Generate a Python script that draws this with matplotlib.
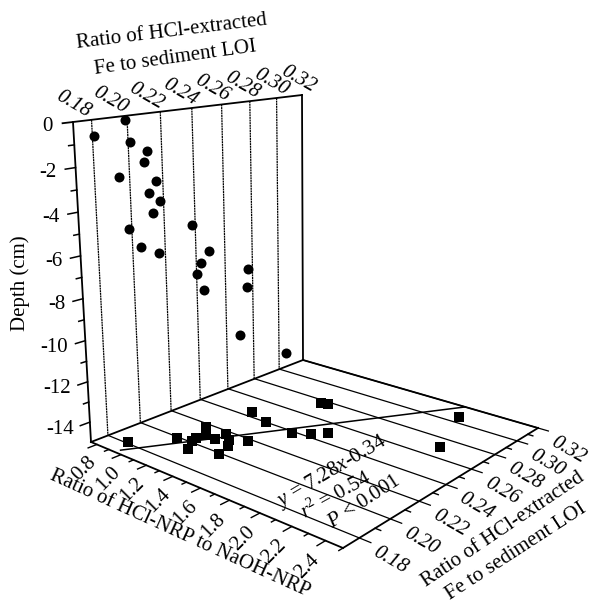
import numpy as np
import matplotlib
matplotlib.use('Agg')
import matplotlib.pyplot as plt

plt.rcParams['font.family'] = ['Liberation Serif', 'DejaVu Serif']
plt.rcParams['mathtext.fontset'] = 'custom'
plt.rcParams['mathtext.rm'] = 'Liberation Serif'
plt.rcParams['mathtext.it'] = 'Liberation Serif:italic'

# wall: Fe/LOI ratio against depth
wall_fe = [0.181, 0.199, 0.201, 0.211, 0.209, 0.194, 0.216, 0.211, 0.218, 0.213, 0.198,
           0.238, 0.205, 0.216, 0.249, 0.243, 0.240, 0.277, 0.276, 0.245, 0.270, 0.306]
wall_depth = [-0.71, -0.20, -1.23, -1.74, -2.23, -2.73, -3.24, -3.74, -4.24, -4.74, -5.24,
              -5.74, -6.25, -6.76, -7.25, -7.76, -8.27, -8.76, -9.74, -9.24, -12.24, -14.19]

# floor: HCl-NRP/NaOH-NRP ratio against Fe/LOI ratio
floor_nrp = [0.90, 1.06, 1.14, 1.16, 1.21, 1.07, 1.16, 1.23, 1.23, 1.30, 1.35,
             1.39, 1.39, 1.12, 1.28, 1.50, 1.59, 1.65, 1.33, 1.37, 2.07, 2.22]
floor_fe = [0.181, 0.199, 0.205, 0.201, 0.194, 0.217, 0.210, 0.210, 0.217, 0.213, 0.208,
            0.199, 0.218, 0.245, 0.240, 0.238, 0.243, 0.249, 0.277, 0.278, 0.307, 0.271]

fit_nrp = [0.954, 2.018]
fit_fe = [0.173, 0.320]

fe_ticks = [0.18, 0.20, 0.22, 0.24, 0.26, 0.28, 0.30, 0.32]
fe_minor = [0.19, 0.21, 0.23, 0.25, 0.27, 0.29, 0.31]
nrp_ticks = [0.8, 1.0, 1.2, 1.4, 1.6, 1.8, 2.0, 2.2, 2.4]
nrp_minor = [0.9, 1.1, 1.3, 1.5, 1.7, 1.9, 2.1, 2.3, 2.5]
depth_ticks = [0, -2, -4, -6, -8, -10, -12, -14]
depth_minor = [-1, -3, -5, -7, -9, -11, -13]

FE_MIN, FE_MAX = 0.17, 0.32
NRP_MIN, NRP_MAX = 0.75, 2.5
DEPTH_MIN, DEPTH_MAX = -15, 0


def fit_plane(src, dst):
    # homography from data plane to pixels
    rows = []
    for (a, b), (x, y) in zip(src, dst):
        rows.append([a, b, 1, 0, 0, 0, -a * x, -b * x, -x])
        rows.append([0, 0, 0, a, b, 1, -a * y, -b * y, -y])
    return np.linalg.svd(np.array(rows))[2][-1].reshape(3, 3)


WALL = fit_plane([(FE_MIN, DEPTH_MAX), (FE_MAX, DEPTH_MAX), (FE_MIN, DEPTH_MIN), (FE_MAX, DEPTH_MIN)],
                 [(73, 122), (302, 95), (91, 442), (303, 360)])
FLOOR = fit_plane([(NRP_MIN, FE_MIN), (NRP_MIN, FE_MAX), (NRP_MAX, FE_MAX), (NRP_MAX, FE_MIN)],
                  [(91, 442), (303, 360), (538, 428), (343, 548)])


def project(plane, a, b):
    a, b = np.broadcast_arrays(np.asarray(a, float), np.asarray(b, float))
    p = plane @ np.vstack([a.ravel(), b.ravel(), np.ones(a.size)])
    return p[0] / p[2], p[1] / p[2]


fig = plt.figure(figsize=(5.89, 6.04), dpi=100)
ax = fig.add_axes([0, 0, 1, 1])
ax.set_xlim(0, 589)
ax.set_ylim(604, 0)
ax.axis('off')

FS = 15
spine = dict(color='black', lw=1.3, solid_capstyle='projecting', zorder=3)
thin = dict(color='black', lw=0.9, zorder=1)


def seg(plane, a, b, **kw):
    ax.plot(*project(plane, a, b), **kw)


# --- wall ---
for u in fe_ticks[:-1]:
    seg(WALL, [u, u], [DEPTH_MAX, DEPTH_MIN], color='black', lw=0.9, ls=(0, (1.6, 0.5)), zorder=1)
seg(WALL, [FE_MAX, FE_MAX], [DEPTH_MAX, DEPTH_MIN], **spine)
seg(WALL, [FE_MIN, FE_MIN], [DEPTH_MAX, DEPTH_MIN], **spine)
seg(WALL, [FE_MIN - 0.0055, FE_MAX], [DEPTH_MAX, DEPTH_MAX], **spine)
for z in depth_ticks[1:]:
    seg(WALL, [FE_MIN - 0.0055, FE_MIN], [z, z], color='black', lw=1.1, zorder=3)
for z in depth_minor:
    seg(WALL, [FE_MIN - 0.003, FE_MIN], [z, z], color='black', lw=1.1, zorder=3)
for z in depth_ticks:
    px, py = project(WALL, FE_MIN, z)
    ax.text(px[0] - 20 + 4 * (-z / 14), py[0] + 2 + 3 * (-z / 14), str(z), fontsize=FS,
            ha='right', va='center_baseline')

# --- floor ---
for u in fe_ticks:
    seg(FLOOR, [NRP_MIN, NRP_MAX + 0.065], [u, u], **thin)
for u in fe_minor:
    seg(FLOOR, [NRP_MAX, NRP_MAX + 0.032], [u, u], color='black', lw=1.0, zorder=2)
seg(FLOOR, [NRP_MIN, NRP_MIN], [FE_MIN, FE_MAX], **spine)
seg(FLOOR, [NRP_MIN, NRP_MAX], [FE_MAX, FE_MAX], **spine)
seg(FLOOR, [NRP_MIN, NRP_MAX], [FE_MIN, FE_MIN], **spine)
seg(FLOOR, [NRP_MAX, NRP_MAX], [FE_MIN, FE_MAX], **spine)
for x in nrp_ticks:
    seg(FLOOR, [x, x], [FE_MIN - 0.005, FE_MIN], color='black', lw=1.0, zorder=2)
for x in nrp_minor:
    seg(FLOOR, [x, x], [FE_MIN - 0.0025, FE_MIN], color='black', lw=1.0, zorder=2)

# --- data ---
ax.plot(*project(WALL, wall_fe, wall_depth), 'o', color='black', ms=7.2, mew=0, zorder=4)
ax.plot(*project(FLOOR, floor_nrp, floor_fe), 's', color='black', ms=6.7, mew=0, zorder=4)
ax.plot(*project(FLOOR, fit_nrp, fit_fe), color='black', lw=1.1, zorder=3)

# --- tick labels ---
for u in fe_ticks:
    px, py = project(WALL, u, DEPTH_MAX)
    ax.text(px[0] - 17 + 15 * (u - 0.18) / 0.14, py[0] - 18, f'{u:.2f}', fontsize=FS, style='italic',
            rotation=-30, rotation_mode='anchor', ha='center', va='center_baseline')
    px, py = project(FLOOR, NRP_MAX, u)
    ax.text(px[0] + 32, py[0] + 20, f'{u:.2f}', fontsize=FS, style='italic',
            rotation=-30, rotation_mode='anchor', ha='center', va='center_baseline')
for x in nrp_ticks:
    px, py = project(FLOOR, x, FE_MIN)
    t = (x - 0.8) / 1.6
    ax.text(px[0] - 14 - 6 * t, py[0] + 22 + 2 * t, f'{x:.1f}', fontsize=FS,
            rotation=45, rotation_mode='anchor', ha='center', va='center_baseline')

# --- axis titles ---
def label(x, y, s, rot):
    ax.text(x, y, s, fontsize=FS, rotation=rot, rotation_mode='anchor', ha='center', va='center')


label(172, 32, 'Ratio of HCl-extracted', 7)
label(175, 58, 'Fe to sediment LOI', 8)
label(20, 283, 'Depth (cm)', 90)
label(180, 534, 'Ratio of HCl-NRP to NaOH-NRP', -24.5)
label(503, 530, 'Ratio of HCl-extracted', 34)
label(516, 552, 'Fe to sediment LOI', 33)
label(332, 472, r'$\it{y}$ = 7.28$\it{x}$-0.34', 30.5)
label(336, 495, r'$\it{r}^2$ = 0.54', 29)
label(364, 502, r'$\it{P}$ < 0.001', 33)

plt.savefig('out.png', dpi=100)
plt.close()
